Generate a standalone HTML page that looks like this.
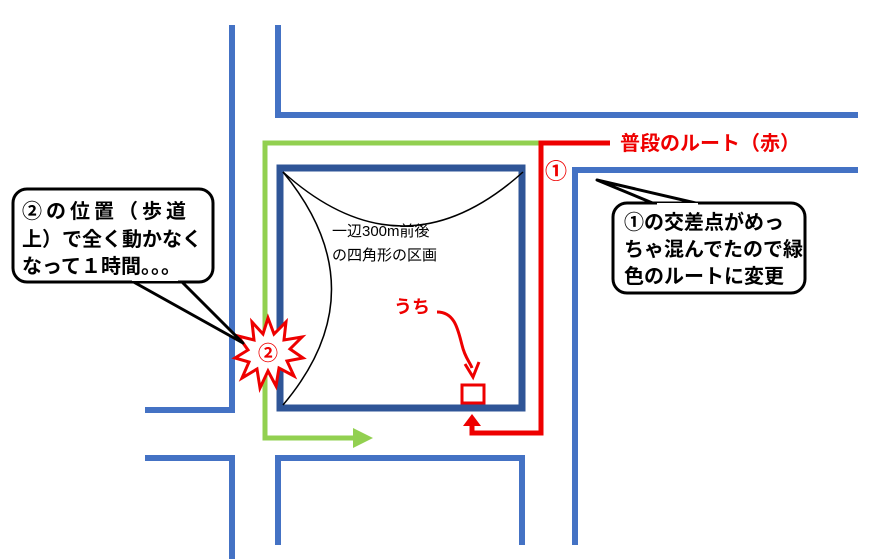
<!DOCTYPE html>
<html><head><meta charset="utf-8"><style>
body{margin:0;background:#fff}
svg{display:block}
text{font-family:"Liberation Sans","Noto Sans CJK JP",sans-serif}
</style></head><body>
<svg width="870" height="559" viewBox="0 0 870 559">
<defs>
<marker id="ga" markerWidth="4" markerHeight="4" refX="1" refY="2" orient="auto" markerUnits="strokeWidth"><path d="M0,0 L4,2 L0,4z" fill="#92D050"/></marker>
</defs>
<g fill="none" stroke="#4472C4" stroke-width="6">
<path d="M232,25 V410 H145"/>
<path d="M145,458 H232 V559"/>
<path d="M278,25 V115 H858"/>
<path d="M278,545 V458 H522 V545"/>
<path d="M575,545 V170 H858"/>
</g>
<rect x="280" y="168" width="242" height="240" fill="none" stroke="#2F5597" stroke-width="7"/>
<path d="M283,172 Q403,280 523,172" fill="none" stroke="#000" stroke-width="1.5"/>
<path d="M283,172 Q380,290 283,405" fill="none" stroke="#000" stroke-width="1.5"/>
<text x="332" y="236" font-size="15">一辺300m前後</text>
<text x="332" y="260" font-size="15">の四角形の区画</text>
<path d="M542,143 H265 V438 H358" fill="none" stroke="#92D050" stroke-width="5" marker-end="url(#ga)"/>
<path d="M610,143 H541 V433 H472 V426" fill="none" stroke="#E00" stroke-width="5"/>
<path d="M463,426 L472,414 L481,426z" fill="#E00"/>
<rect x="462" y="385" width="22" height="18" fill="none" stroke="#E00" stroke-width="3"/>
<text x="620" y="150" font-size="20" font-weight="bold" fill="#E00">普段のルート（赤）</text>
<text x="545" y="179" font-size="22" font-weight="bold" fill="#E00">①</text>
<text x="394" y="313" font-size="18" font-weight="bold" fill="#E00">うち</text>
<path d="M437,312 C455,312 458,330 462,345 C465,358 470,362 472,368" fill="none" stroke="#E00" stroke-width="3"/>
<path d="M465,364 L473,377 L479,362" fill="none" stroke="#E00" stroke-width="3"/>
<!-- starburst -->
<polygon fill="#fff" stroke="#E00" stroke-width="3" points="268,318 274,334 286,322 284,340 302,337 290,349 303,358 287,361 294,376 279,368 276,386 268,371 260,388 257,369 242,378 249,362 235,358 248,350 238,336 254,340 252,322 263,334"/>
<text x="268" y="360" font-size="20" font-weight="bold" fill="#E00" text-anchor="middle">②</text>
<!-- left callout -->
<path d="M130,280 L243,343 L180,280z" fill="#fff" stroke="#000" stroke-width="3" stroke-linejoin="round"/>
<rect x="13" y="189" width="200" height="93" rx="14" fill="#fff" stroke="#000" stroke-width="3"/>
<path d="M132,279 L178,279" stroke="#fff" stroke-width="4"/>
<text font-size="20" font-weight="bold"><tspan x="22" y="218" letter-spacing="4">②の位置（歩道</tspan><tspan x="22" y="246">上）で全く動かなく</tspan><tspan x="22" y="273">なって１時間。。。</tspan></text>
<!-- right callout -->
<path d="M597,180 L655,204 L700,204z" fill="#fff" stroke="#000" stroke-width="3" stroke-linejoin="round"/>
<rect x="613" y="203" width="192" height="90" rx="14" fill="#fff" stroke="#000" stroke-width="3"/>
<path d="M657,205 L698,205" stroke="#fff" stroke-width="4"/>
<text font-size="20" font-weight="bold"><tspan x="624" y="229">①の交差点がめっ</tspan><tspan x="624" y="256">ちゃ混んでたので緑</tspan><tspan x="624" y="283">色のルートに変更</tspan></text>
</svg>
</body></html>
